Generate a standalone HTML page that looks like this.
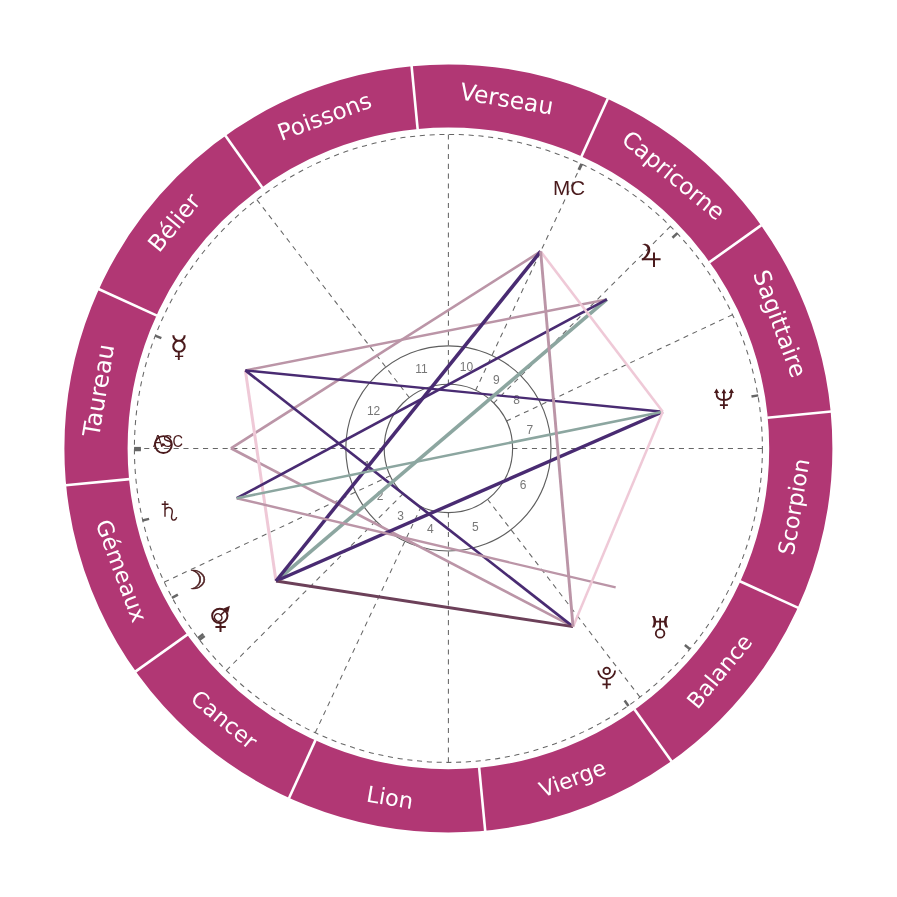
<!DOCTYPE html>
<html lang="fr"><head><meta charset="utf-8"><title>Carte du ciel</title>
<style>html,body{margin:0;padding:0;background:#fff}svg{display:block}.sg{font-family:"DejaVu Sans","Liberation Sans",sans-serif;font-size:23px;fill:#fff;text-anchor:middle}.hn{font-family:"Liberation Sans",sans-serif;font-size:12px;fill:#777;text-anchor:middle}.pl{font-family:"DejaVu Sans","Liberation Sans",sans-serif;fill:#4a1a1c;text-anchor:start}.ax{font-family:"Liberation Sans","DejaVu Sans",sans-serif;fill:#4a1a1c;text-anchor:start}.d{stroke:#666;stroke-width:1.05;stroke-dasharray:5.1 4.7;fill:none}.a{fill:none;stroke-linecap:butt}</style></head><body>
<svg width="897" height="897" viewBox="0 0 897 897">
<rect width="897" height="897" fill="#fff"/>
<circle cx="448.4" cy="448.4" r="352.4" fill="none" stroke="#b13774" stroke-width="63.2"/>
<line x1="767.23" y1="417.7" x2="831.13" y2="411.55" stroke="#fff" stroke-width="2.6"/>
<line x1="709.16" y1="262.4" x2="761.43" y2="225.12" stroke="#fff" stroke-width="2.6"/>
<line x1="581.23" y1="156.94" x2="607.85" y2="98.52" stroke="#fff" stroke-width="2.6"/>
<line x1="417.7" y1="129.57" x2="411.55" y2="65.67" stroke="#fff" stroke-width="2.6"/>
<line x1="262.4" y1="187.64" x2="225.12" y2="135.37" stroke="#fff" stroke-width="2.6"/>
<line x1="156.94" y1="315.57" x2="98.52" y2="288.95" stroke="#fff" stroke-width="2.6"/>
<line x1="129.57" y1="479.1" x2="65.67" y2="485.25" stroke="#fff" stroke-width="2.6"/>
<line x1="187.64" y1="634.4" x2="135.37" y2="671.68" stroke="#fff" stroke-width="2.6"/>
<line x1="315.57" y1="739.86" x2="288.95" y2="798.28" stroke="#fff" stroke-width="2.6"/>
<line x1="479.1" y1="767.23" x2="485.25" y2="831.13" stroke="#fff" stroke-width="2.6"/>
<line x1="634.4" y1="709.16" x2="671.68" y2="761.43" stroke="#fff" stroke-width="2.6"/>
<line x1="739.86" y1="581.23" x2="798.28" y2="607.85" stroke="#fff" stroke-width="2.6"/>
<text class="sg" transform="translate(506.83 98.85) rotate(9.5) scale(1.02)" y="8">Verseau</text>
<text class="sg" transform="translate(673.57 175.24) rotate(39.5) scale(1)" y="8">Capricorne</text>
<text class="sg" transform="translate(779.98 323.63) rotate(69.5) scale(1.01)" y="8">Sagittaire</text>
<text class="sg" transform="translate(793.95 506.83) rotate(-80.5) scale(0.97)" y="8">Scorpion</text>
<text class="sg" transform="translate(719.56 671.27) rotate(-50.5) scale(0.96)" y="8">Balance</text>
<text class="sg" transform="translate(572.37 778.68) rotate(-20.5) scale(0.94)" y="8">Vierge</text>
<text class="sg" transform="translate(389.97 797.55) rotate(9.5) scale(0.98)" y="8">Lion</text>
<text class="sg" transform="translate(224.23 719.56) rotate(39.5) scale(0.96)" y="8">Cancer</text>
<text class="sg" transform="translate(121.32 570.77) rotate(69.5) scale(0.97)" y="8">Gémeaux</text>
<text class="sg" transform="translate(98.45 390.37) rotate(-80.5) scale(1.03)" y="8">Taureau</text>
<text class="sg" transform="translate(173.94 222.53) rotate(-50.5) scale(1.01)" y="8">Bélier</text>
<text class="sg" transform="translate(324.43 116.42) rotate(-20.5) scale(1)" y="8">Poissons</text>
<circle class="d" cx="448.4" cy="448.4" r="314"/>
<line class="d" x1="134.4" y1="448.4" x2="384.2" y2="448.4"/>
<line class="d" x1="164.28" y1="582.09" x2="390.31" y2="475.74"/>
<line class="d" x1="226.37" y1="670.43" x2="403" y2="493.8"/>
<line class="d" x1="315.2" y1="732.75" x2="421.17" y2="506.54"/>
<line class="d" x1="448.4" y1="762.4" x2="448.4" y2="512.6"/>
<line class="d" x1="639.99" y1="697.18" x2="487.57" y2="499.26"/>
<line class="d" x1="762.4" y1="448.4" x2="512.6" y2="448.4"/>
<line class="d" x1="732.52" y1="314.71" x2="506.49" y2="421.06"/>
<line class="d" x1="670.43" y1="226.37" x2="493.8" y2="403"/>
<line class="d" x1="581.6" y1="164.05" x2="475.63" y2="390.26"/>
<line class="d" x1="448.4" y1="134.4" x2="448.4" y2="384.2"/>
<line class="d" x1="256.81" y1="199.62" x2="409.23" y2="397.54"/>
<circle cx="448.4" cy="448.4" r="102.6" fill="none" stroke="#5e5e5e" stroke-width="1.15"/>
<circle cx="448.4" cy="448.4" r="64.2" fill="none" stroke="#5e5e5e" stroke-width="1.15"/>
<text class="hn" x="367.06" y="470.23">1</text>
<text class="hn" x="380.21" y="499.98">2</text>
<text class="hn" x="400.53" y="520.28">3</text>
<text class="hn" x="430.29" y="533.41">4</text>
<text class="hn" x="475.26" y="530.95">5</text>
<text class="hn" x="523.19" y="488.85">6</text>
<text class="hn" x="529.74" y="433.87">7</text>
<text class="hn" x="516.59" y="404.12">8</text>
<text class="hn" x="496.27" y="383.82">9</text>
<text class="hn" x="466.51" y="370.69">10</text>
<text class="hn" x="421.54" y="373.15">11</text>
<text class="hn" x="373.61" y="415.25">12</text>
<line x1="134.1" y1="450.05" x2="140.9" y2="450.01" stroke="#666" stroke-width="2.5"/>
<line x1="155.02" y1="335.66" x2="161.36" y2="338.1" stroke="#666" stroke-width="2.5"/>
<line x1="142.47" y1="520.44" x2="149.09" y2="518.88" stroke="#666" stroke-width="2.5"/>
<line x1="171.93" y1="597.89" x2="177.91" y2="594.65" stroke="#666" stroke-width="2.5"/>
<line x1="199.28" y1="640.04" x2="204.67" y2="635.89" stroke="#666" stroke-width="2.5"/>
<line x1="197.88" y1="638.21" x2="203.3" y2="634.1" stroke="#666" stroke-width="2.5"/>
<line x1="628.5" y1="705.99" x2="624.6" y2="700.41" stroke="#666" stroke-width="2.5"/>
<line x1="690.08" y1="649.33" x2="684.85" y2="644.99" stroke="#666" stroke-width="2.5"/>
<line x1="758.2" y1="395.39" x2="751.49" y2="396.54" stroke="#666" stroke-width="2.5"/>
<line x1="677.4" y1="233.13" x2="672.45" y2="237.78" stroke="#666" stroke-width="2.5"/>
<line x1="581.73" y1="163.78" x2="578.84" y2="169.94" stroke="#666" stroke-width="3"/>
<line x1="134.1" y1="448.4" x2="140.9" y2="448.4" stroke="#666" stroke-width="3"/>
<line class="a" x1="230.9" y1="448.29" x2="573.03" y2="626.65" stroke="#bb95a7" stroke-width="2.7"/>
<line class="a" x1="230.9" y1="448.29" x2="540.66" y2="251.44" stroke="#bb95a7" stroke-width="2.6"/>
<line class="a" x1="245.37" y1="370.38" x2="276.01" y2="581.02" stroke="#efc9d7" stroke-width="3"/>
<line class="a" x1="245.37" y1="370.38" x2="606.87" y2="299.43" stroke="#bb95a7" stroke-width="2.5"/>
<line class="a" x1="245.37" y1="370.38" x2="662.78" y2="411.72" stroke="#492b72" stroke-width="2.4"/>
<line class="a" x1="245.37" y1="370.38" x2="573.03" y2="626.65" stroke="#492b72" stroke-width="2.7"/>
<line class="a" x1="276.01" y1="581.02" x2="606.87" y2="299.43" stroke="#8ca6a0" stroke-width="3.6"/>
<line class="a" x1="276.01" y1="581.02" x2="662.78" y2="411.72" stroke="#492b72" stroke-width="3.4"/>
<line class="a" x1="276.01" y1="581.02" x2="573.03" y2="626.65" stroke="#6c4059" stroke-width="2.9"/>
<line class="a" x1="276.01" y1="581.02" x2="540.66" y2="251.44" stroke="#492b72" stroke-width="3.5"/>
<line class="a" x1="606.87" y1="299.43" x2="236.69" y2="498.25" stroke="#492b72" stroke-width="2.6"/>
<line class="a" x1="236.69" y1="498.25" x2="615.65" y2="587.45" stroke="#bb95a7" stroke-width="2.4"/>
<line class="a" x1="236.69" y1="498.25" x2="662.78" y2="411.72" stroke="#8ca6a0" stroke-width="2.6"/>
<line class="a" x1="662.78" y1="411.72" x2="573.03" y2="626.65" stroke="#efc9d7" stroke-width="2.5"/>
<line class="a" x1="662.78" y1="411.72" x2="540.66" y2="251.44" stroke="#efc9d7" stroke-width="2.6"/>
<line class="a" x1="573.03" y1="626.65" x2="540.66" y2="251.44" stroke="#bb95a7" stroke-width="2.9"/>
<text class="pl" transform="translate(169.46 356.81) scale(1.2689 1.2450)" font-size="24">☿</text>
<text class="pl" transform="translate(179.7 589.2) scale(1.2963 1.0959)" font-size="24" stroke="#4a1a1c" stroke-width="0.45">☽</text>
<text class="ax" transform="translate(552.95 194.89) scale(0.8596 0.8803)" font-size="24">MC</text>
<text class="ax" transform="translate(153.1 446.74) scale(0.6074 0.6837)" font-size="24">ASC</text>
<g fill="none" stroke="#4a1a1c" stroke-width="1.9"><title>☉ Soleil</title><circle cx="163.4" cy="444.6" r="8.45"/><circle cx="163" cy="444.7" r="1.4" fill="#4a1a1c" stroke="none"/></g>
<g fill="none" stroke="#4a1a1c" stroke-width="1.4"><title>♄ Saturne</title><path d="M165 501 V516.7 M161.7 504.2 H168.5 M165 509.8 C166.5 507.4 169.9 506.4 171.7 509.2 C173.7 512.3 170.5 515.4 171.8 518.7 C172.7 520.9 175.9 520.6 176.7 517.1"/></g>
<g fill="none" stroke="#4a1a1c" stroke-width="1.8"><title>♅ Uranus</title><circle cx="660.1" cy="633.4" r="4.3"/><path d="M660.1 618.2 V629 M654.8 621.6 H665.4 "/><path fill="#4a1a1c" stroke="none" d="M652.1 616 L654.6 616 C656.8 619.6 656.8 623.9 654.6 627.5 L652.1 627.5 C654.1 623.9 654.1 619.6 652.1 616 Z M668.1 616 L665.6 616 C663.4 619.6 663.4 623.9 665.6 627.5 L668.1 627.5 C666.1 623.9 666.1 619.6 668.1 616 Z"/></g>
<g fill="none" stroke="#4a1a1c" stroke-width="2"><title>♃ Jupiter</title><path fill="#4a1a1c" stroke="none" d="M641.8 244.3 C645.6 242.6 650.5 244.6 650.3 250 C650.1 254.4 646.2 258.2 642.8 260.4 L641.8 259.2 C644.8 256.6 647.5 253.6 647.6 250 C647.7 246.8 645.2 245 641.8 244.3 Z"/><path d="M641.8 259.3 H660.6 M654 252.4 V266.9"/></g>
<g fill="none" stroke="#4a1a1c" stroke-width="2"><title>♀ Vénus</title><ellipse cx="219.8" cy="615.85" rx="7.65" ry="7.2"/><path d="M220.5 623 V631.9 M215.4 626.9 H225.8"/></g>
<g fill="none" stroke="#4a1a1c" stroke-width="1.5"><title>♂ Mars</title><ellipse cx="218.2" cy="617.5" rx="3.9" ry="3.5" transform="rotate(45 218.2 617.5)"/><path d="M220.9 614.9 L226 610"/><path fill="#4a1a1c" stroke="none" d="M229.9 605.8 L223.5 608.5 L228.2 612.8 Z"/></g>
<g fill="none" stroke="#4a1a1c" stroke-width="1.8"><title>♆ Neptune</title><path d="M716.5 392 V393.4 C716.5 397.8 719.6 400 723.9 400 C728.2 400 731.4 397.8 731.4 393.4 V392 M723.9 392 V409.1 M719.9 405.2 H727.9"/><path fill="#4a1a1c" stroke="none" d="M716.5 388.6 L719.1 393.1 H713.9 Z M723.9 388.7 L726.3 393.2 H721.5 Z M731.4 388.6 L734 393.1 H728.8 Z"/></g>
<g fill="none" stroke="#4a1a1c" stroke-width="1.8"><title>♇ Pluton</title><circle cx="606.7" cy="670.9" r="3.3"/><path d="M598.2 670.4 A8.45 8.45 0 0 0 615.1 670.4 M606.7 678.8 V688.8 M602.4 684.4 H610.9"/></g>
</svg></body></html>
